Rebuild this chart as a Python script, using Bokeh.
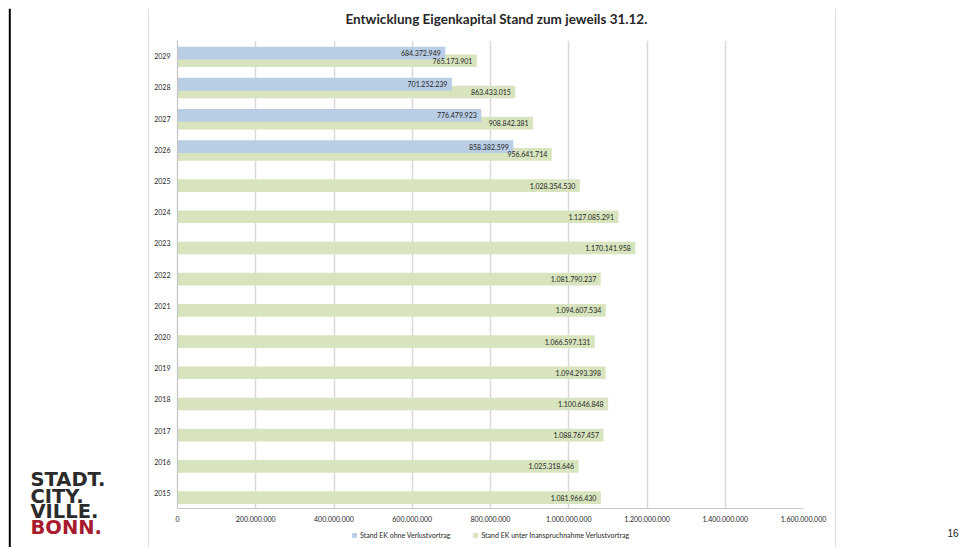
from bokeh.plotting import figure
from bokeh.layouts import row, column
from bokeh.models import (ColumnDataSource, FactorRange, Range1d, FixedTicker,
                          CustomJSTickFormatter, LabelSet, Label, Legend, LegendItem)
from bokeh.transform import dodge
from bokeh.core.properties import value
from bokeh.embed import file_html
from bokeh.resources import INLINE

# ---- data ----
years = ["2015", "2016", "2017", "2018", "2019", "2020", "2021", "2022",
         "2023", "2024", "2025", "2026", "2027", "2028", "2029"]
green_values = [1081966430, 1025318646, 1088767457, 1100646848, 1094293398,
                1066597131, 1094607534, 1081790237, 1170141958, 1127085291,
                1028354530, 956641714, 908842381, 863433015, 765173901]
blue_years = ["2026", "2027", "2028", "2029"]
blue_values = [858382599, 776479923, 701252239, 684372949]
x_ticks = [0, 200000000, 400000000, 600000000, 800000000, 1000000000,
           1200000000, 1400000000, 1600000000]
series_names = ["Stand EK ohne Verlustvortrag",
                "Stand EK unter Inanspruchnahme Verlustvortrag"]
title_text = "Entwicklung Eigenkapital Stand zum jeweils 31.12."
logo_lines = ["STADT.", "CITY.", "VILLE.", "BONN."]
page_number = "16"


def fmt(v):
    return f"{v:,}".replace(",", ".")


green_src = ColumnDataSource(dict(year=years, value=green_values,
                                  label=[fmt(v) for v in green_values]))
blue_src = ColumnDataSource(dict(year=blue_years, value=blue_values,
                                 label=[fmt(v) for v in blue_values]))

BLUE = "#b9cde5"
GREEN = "#d7e4bd"
TXT = "#262626"
FONT = "Lato"
GRAY_LINE = "#bfbfbf"


def blank(width, height, color="white"):
    f = figure(width=width, height=height, output_backend="svg",
               toolbar_location=None, x_axis_type=None, y_axis_type=None,
               x_range=Range1d(0, width), y_range=Range1d(0, height),
               min_border=0)
    f.background_fill_color = color
    f.border_fill_color = color
    f.outline_line_color = None
    f.xgrid.visible = False
    f.ygrid.visible = False
    return f


# ---- main chart ----
p = figure(width=686, height=498,
           y_range=FactorRange(factors=years),
           x_range=Range1d(0, 1600000000),
           output_backend="svg", toolbar_location=None,
           min_border_left=28, min_border_right=32,
           min_border_top=10, min_border_bottom=20)
p.outline_line_color = None
p.background_fill_color = "white"
p.border_fill_color = "white"

G_OFF, B_OFF = -0.15, 0.098
gr = p.hbar(y=dodge("year", G_OFF, range=p.y_range), left=0, right="value",
            height=0.405, source=green_src, fill_color=GREEN, line_color=None)
br = p.hbar(y=dodge("year", B_OFF, range=p.y_range), left=0, right="value",
            height=0.41, source=blue_src, fill_color=BLUE, line_color=None)

for src, off in ((green_src, G_OFF), (blue_src, B_OFF)):
    p.add_layout(LabelSet(x="value", y=dodge("year", off, range=p.y_range),
                          text="label", source=src, x_offset=-4.5,
                          text_align="right", text_baseline="middle",
                          text_font=value(FONT), text_font_size="7px",
                          text_color=TXT))

p.xaxis.ticker = FixedTicker(ticks=x_ticks)
p.xaxis.formatter = CustomJSTickFormatter(
    code="return tick.toFixed(0).replace(/\\B(?=(\\d{3})+(?!\\d))/g, '.');")
for ax in (p.xaxis[0], p.yaxis[0]):
    ax.major_label_text_font = FONT
    ax.major_label_text_font_size = "7px"
    ax.major_label_text_color = TXT
    ax.major_tick_line_color = None
    ax.minor_tick_line_color = None
    ax.major_tick_out = 0
    ax.major_tick_in = 0
    ax.axis_line_color = "#c4c4c4"
    ax.axis_line_width = 1.2
p.xaxis.major_label_standoff = 7
p.yaxis.major_label_standoff = 7
p.xgrid.grid_line_color = "#d9d9d9"
p.xgrid.grid_line_width = 1.5
p.ygrid.grid_line_color = None

# ---- legend strip below the chart (same series styles) ----
legend_fig = blank(686, 19)
lg_blue = legend_fig.hbar(y=[0], left=[0], right=[0], height=0.001,
                          fill_color=BLUE, line_color=None)
lg_green = legend_fig.hbar(y=[0], left=[0], right=[0], height=0.001,
                           fill_color=GREEN, line_color=None)
legend = Legend(items=[LegendItem(label=series_names[0], renderers=[lg_blue]),
                       LegendItem(label=series_names[1], renderers=[lg_green])],
                location=(174, 7.5), orientation="horizontal",
                padding=0, margin=0, spacing=22, label_standoff=3,
                glyph_width=6, glyph_height=6, label_height=9,
                label_text_font=FONT, label_text_font_size="7px",
                label_text_color=TXT, background_fill_alpha=0,
                border_line_color=None)
legend_fig.add_layout(legend)

# ---- title strip above the chart ----
title_fig = blank(686, 22)
title_fig.add_layout(Label(x=349.5, y=12, text=title_text, text_align="center",
                           text_baseline="middle", text_font=FONT,
                           text_font_style="bold", text_font_size="13.5px",
                           text_color=TXT))

# ---- left panel: black page edge + logo ----
left_fig = blank(148, 539)
left_fig.quad(left=[8.3], right=[10.3], bottom=[0], top=[539],
              fill_color="black", line_color=None)
logo_y = [68, 51, 36, 20]
logo_colors = ["#2b2b2b", "#2b2b2b", "#2b2b2b", "#a61c2e"]
for t, yy, c in zip(logo_lines, logo_y, logo_colors):
    left_fig.add_layout(Label(x=30, y=yy, text=t, text_align="left",
                              text_baseline="alphabetic",
                              text_font="DejaVu Sans", text_font_style="bold",
                              text_font_size="19.5px", text_color=c))

# ---- right panel with page number ----
right_fig = blank(131, 539)
right_fig.add_layout(Label(x=122, y=15, text=page_number, text_align="right",
                           text_baseline="middle", text_font="Liberation Sans",
                           text_font_size="10px", text_color="#222222"))

# ---- top strip with black line ----
top_fig = blank(967, 8)
top_fig.quad(left=[8.3], right=[967], bottom=[0], top=[2.3],
             fill_color="black", line_color=None)

gray1 = blank(1, 539, color=GRAY_LINE)
gray2 = blank(1, 539, color=GRAY_LINE)

layout = column(top_fig,
                row(left_fig, gray1,
                    column(title_fig, p, legend_fig, spacing=0),
                    gray2, right_fig, spacing=0),
                spacing=0)

open("out.html", "w").write(file_html(layout, INLINE))
